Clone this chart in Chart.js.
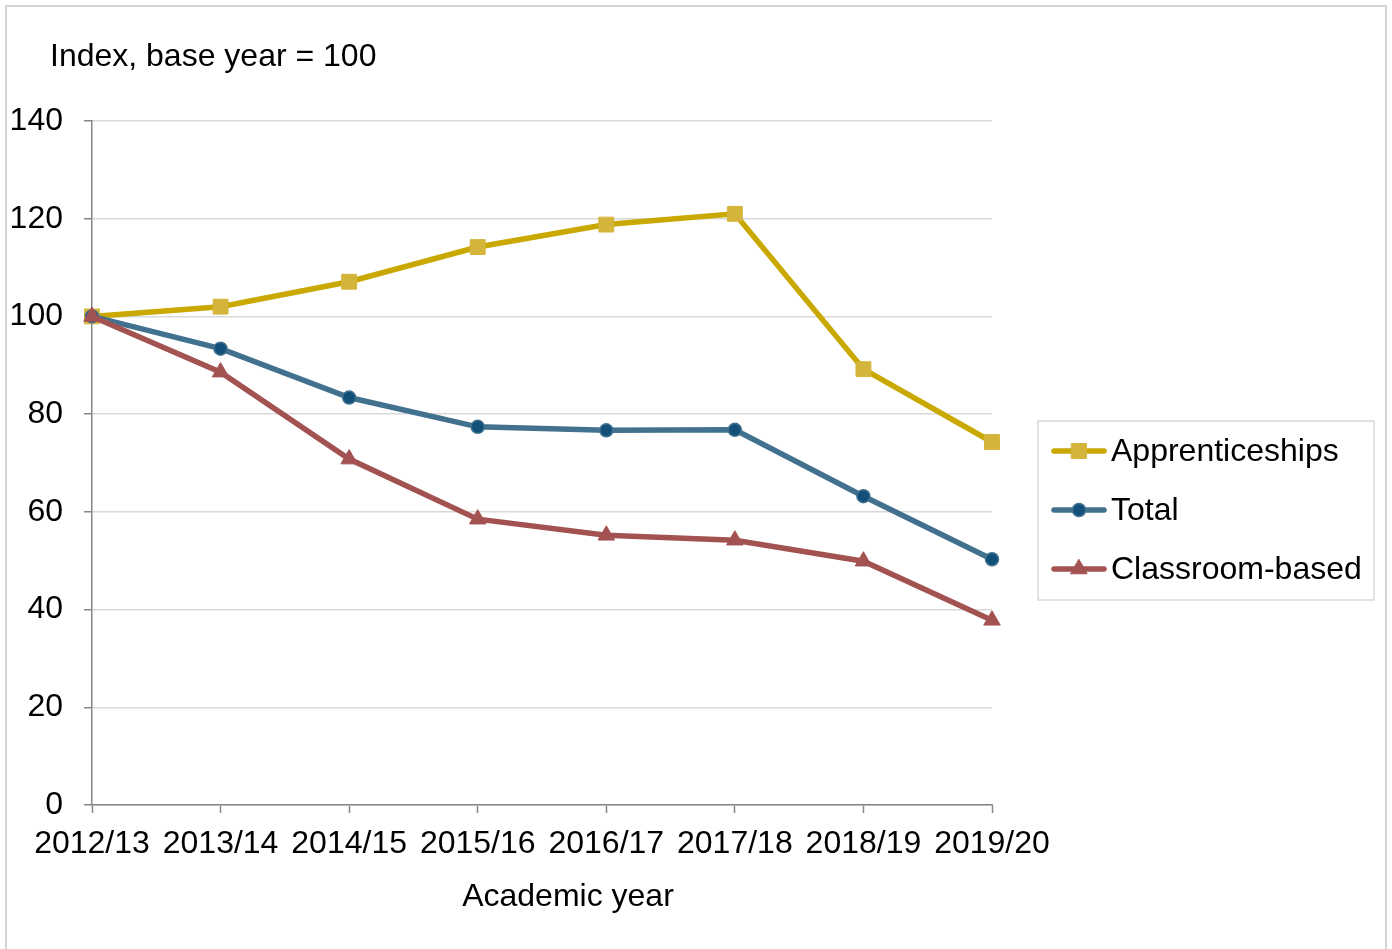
<!DOCTYPE html>
<html>
<head>
<meta charset="utf-8">
<title>Index by academic year</title>
<script src="https://cdn.jsdelivr.net/npm/chart.js@4/dist/chart.umd.min.js"></script>
<style>
  html, body { margin: 0; padding: 0; background: #ffffff; }
  #wrap { position: relative; width: 1392px; height: 949px; }
</style>
</head>
<body>
<div id="wrap"><canvas id="chart" width="1392" height="949"></canvas></div>
<script>
// Academic years on the horizontal axis
const years = ['2012/13', '2013/14', '2014/15', '2015/16', '2016/17', '2017/18', '2018/19', '2019/20'];

// Index values, base year (2012/13) = 100
const apprenticeships = [100, 102.0, 107.1, 114.2, 118.8, 121.0, 89.2, 74.3];
const total = [100, 93.4, 83.4, 77.4, 76.7, 76.8, 63.2, 50.3];
const classroomBased = [100, 88.6, 70.8, 58.5, 55.2, 54.2, 49.9, 37.8];

// Vertical axis range
const yMin = 0;
const yMax = 140;
const yStep = 20;

const FONT = "'Liberation Sans', Arial, Helvetica, sans-serif";
const FS = 32;
const AXIS_GREY = '#868686';
const GRID_GREY = '#D9D9D9';
const LINE_W = 5.5;

// Outer frame around the whole figure
const framePlugin = {
  id: 'frame',
  beforeDraw(chart) {
    const ctx = chart.ctx;
    ctx.save();
    ctx.fillStyle = '#ffffff';
    ctx.fillRect(0, 0, chart.width, chart.height);
    ctx.strokeStyle = '#C6C6C6';
    ctx.lineWidth = 1.5;
    ctx.strokeRect(6, 6, 1380, 960);
    ctx.restore();
  }
};

// Unit caption above the value axis and the category axis caption
const captionsPlugin = {
  id: 'captions',
  afterDraw(chart) {
    const ctx = chart.ctx;
    ctx.save();
    ctx.font = FS + 'px ' + FONT;
    ctx.fillStyle = '#000000';
    ctx.textBaseline = 'middle';
    ctx.textAlign = 'left';
    ctx.fillText('Index, base year = 100', 50, 57);
    ctx.textAlign = 'center';
    ctx.fillText('Academic year', 568, 897);
    ctx.restore();
  }
};

// Boxed legend at the right: line sample with marker, then the series name
const boxedLegendPlugin = {
  id: 'boxedLegend',
  afterDraw(chart) {
    const ctx = chart.ctx;
    const box = { x: 1038, y: 421, w: 336, h: 179 };
    ctx.save();
    ctx.strokeStyle = GRID_GREY;
    ctx.lineWidth = 1.5;
    ctx.strokeRect(box.x, box.y, box.w, box.h);
    const rowY = [451, 510, 569];
    chart.data.datasets.forEach((ds, i) => {
      const y = rowY[i];
      ctx.strokeStyle = ds.borderColor;
      ctx.lineWidth = ds.borderWidth;
      ctx.lineCap = 'round';
      ctx.beginPath();
      ctx.moveTo(1054, y);
      ctx.lineTo(1104, y);
      ctx.stroke();
      ctx.fillStyle = ds.pointBackgroundColor;
      ctx.strokeStyle = ds.pointBorderColor;
      ctx.lineWidth = ds.pointBorderWidth;
      ctx.beginPath();
      Chart.helpers.drawPoint(ctx, {
        pointStyle: ds.pointStyle,
        radius: ds.pointRadius,
        borderWidth: ds.pointBorderWidth,
        rotation: 0
      }, 1079, y);
      ctx.font = FS + 'px ' + FONT;
      ctx.fillStyle = '#000000';
      ctx.textAlign = 'left';
      ctx.textBaseline = 'middle';
      ctx.fillText(ds.label, 1111, y + 1);
    });
    ctx.restore();
  }
};

new Chart(document.getElementById('chart'), {
  type: 'line',
  data: {
    labels: years,
    datasets: [
      {
        label: 'Apprenticeships',
        data: apprenticeships,
        borderColor: '#C9A800',
        borderWidth: LINE_W,
        pointStyle: 'rect',
        pointRadius: 10.5,
        pointBackgroundColor: '#D4B43A',
        pointBorderColor: '#D4B43A',
        pointBorderWidth: 1,
        order: 3
      },
      {
        label: 'Total',
        data: total,
        borderColor: '#41718F',
        borderWidth: LINE_W,
        pointStyle: 'circle',
        pointRadius: 6.5,
        pointBackgroundColor: '#12507A',
        pointBorderColor: '#41718F',
        pointBorderWidth: 1.5,
        order: 2
      },
      {
        label: 'Classroom-based',
        data: classroomBased,
        borderColor: '#A35252',
        borderWidth: LINE_W,
        pointStyle: 'triangle',
        pointRadius: 9.5,
        pointBackgroundColor: '#A35252',
        pointBorderColor: '#A35252',
        pointBorderWidth: 1,
        order: 1
      }
    ]
  },
  options: {
    responsive: false,
    animation: false,
    devicePixelRatio: 1,
    layout: { padding: { left: 0, top: 121, right: 400, bottom: 0 } },
    elements: { line: { tension: 0 } },
    plugins: {
      legend: { display: false },
      tooltip: { enabled: false },
      title: { display: false }
    },
    scales: {
      x: {
        type: 'category',
        offset: false,
        afterFit(scale) { scale.height = 144; },
        border: { display: true, color: AXIS_GREY, width: 1.5 },
        grid: {
          display: true,
          drawOnChartArea: false,
          drawTicks: true,
          tickLength: 8,
          tickColor: AXIS_GREY,
          tickWidth: 1.5
        },
        ticks: {
          color: '#000000',
          font: { family: FONT, size: FS },
          padding: 12,
          maxRotation: 0,
          autoSkip: false
        },
        title: { display: false }
      },
      y: {
        min: yMin,
        max: yMax,
        afterFit(scale) { scale.width = 92; },
        border: { display: true, color: AXIS_GREY, width: 1.5 },
        grid: {
          color: GRID_GREY,
          lineWidth: 1.5,
          drawTicks: true,
          tickLength: 8,
          tickColor: AXIS_GREY,
          tickWidth: 1.5
        },
        ticks: {
          stepSize: yStep,
          color: '#000000',
          font: { family: FONT, size: FS },
          padding: 21
        }
      }
    }
  },
  plugins: [framePlugin, captionsPlugin, boxedLegendPlugin]
});
</script>
</body>
</html>
